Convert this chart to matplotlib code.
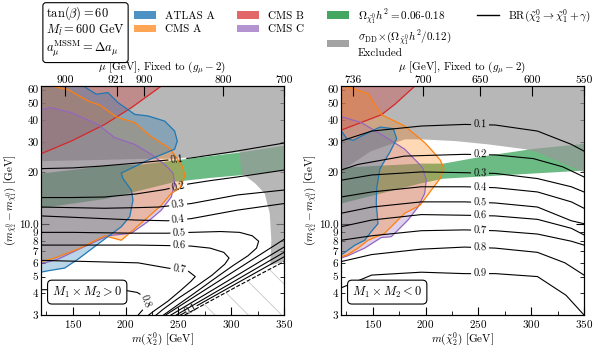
import numpy as np
import matplotlib.pyplot as plt
from matplotlib.patches import Patch
from matplotlib.lines import Line2D

plt.rcParams['font.family'] = 'serif'
plt.rcParams['font.serif'] = ['cmr10']
plt.rcParams['mathtext.fontset'] = 'cm'
plt.rcParams['axes.formatter.use_mathtext'] = True
plt.rcParams['axes.unicode_minus'] = False
plt.rcParams['hatch.linewidth'] = 0.6

# ---------------- data (m_chi2 [GeV], delta m [GeV]) ----------------
XLIM = (120, 350)
YLIM = (3, 63)

# left panel: M1*M2 > 0
L_green_top = ([120, 150, 181, 214, 247, 280, 308, 350], [19.8, 20.8, 22.0, 22.3, 23.6, 25.0, 26.2, 28.7])
L_green_bot = ([120, 180, 237, 250, 306, 350], [12.5, 14.1, 17.0, 18.0, 19.3, 20.6])
L_gray = ([120, 350, 350, 337, 338, 336.5, 331.7, 322.5, 309.6, 308, 280, 247, 214, 180, 150, 120],
          [63, 63, 6.1, 5.8, 8.1, 11.6, 15.1, 17.3, 19.8, 26.2, 25.0, 24.0, 23.9, 23.6, 23.4, 23.2])
L_dashed = ([256, 306, 350], [3.0, 4.4, 6.1])

L_cms_b = ([120, 148.7, 180.3, 205.5, 234], [25.6, 30.3, 37.8, 47.2, 63])
L_atlas = ([160, 172.3, 183.4, 192.9, 208.7, 221.3, 237.1, 246.5, 249, 246.5, 221.3, 196, 197.6, 205.5,
            207.1, 204, 196, 178.7, 155, 142.4, 126.6, 120],
           [63, 56.5, 57.7, 50.5, 43.2, 42.3, 39.5, 34.6, 30.3, 27.2, 23.5, 19.8, 18.4, 15.8,
            13.8, 11.1, 9.7, 8.1, 6.3, 5.6, 5.4, 5.3])
L_cms_a = ([129.7, 145.6, 164.5, 175.8, 191.6, 208.7, 223.2, 242.1, 253.2, 256.3, 251.6, 243.3, 233.9,
            218.2, 196, 180.3, 155, 133, 120],
           [63, 60.1, 51.6, 48.9, 41.7, 38.7, 32.5, 27.4, 22.0, 19.2, 16.2, 15.1, 12.9,
            10.6, 8.1, 8.6, 7.2, 6.4, 6.1])
L_cms_c = ([120, 129.7, 148.7, 174, 189.8, 208.7, 224.4, 237.1, 245, 246.5, 243.3, 233.9, 221.3, 205.5,
            183.4, 158.1, 136.1, 123.5, 120],
           [46.1, 47.2, 44.2, 37.8, 31.7, 29.0, 25.4, 22.2, 19.8, 17.2, 14.4, 12.1, 10.4, 8.9,
            8.6, 7.3, 6.3, 6.0, 6.0])

L_br = {
    '0.1': ([120, 150, 176, 210, 232, 262, 300, 350], [21.0, 21.2, 21.7, 22.6, 23.3, 24.2, 26.2, 29.5]),
    '0.2': ([120, 150, 180, 210, 237, 259, 280, 306, 350], [14.3, 14.3, 14.4, 15.0, 15.9, 17.1, 17.9, 18.8, 20.6]),
    '0.3': ([120, 150, 180, 210, 231, 262, 306, 350], [12.6, 12.5, 12.4, 12.5, 12.6, 13.2, 14.8, 15.8]),
    '0.4': ([120, 150, 180, 210, 240, 262, 306, 350], [11.2, 11.0, 10.8, 10.6, 10.5, 10.8, 12.1, 13.2]),
    '0.5': ([120, 150, 180, 210, 240, 262, 290, 308, 320, 326, 324, 316, 302, 285, 265, 250, 236],
            [9.0, 9.0, 8.95, 8.9, 8.9, 9.0, 9.1, 9.0, 8.6, 8.0, 7.3, 6.6, 5.8, 4.9, 4.0, 3.45, 3.0]),
    '0.6': ([120, 150, 180, 211, 240, 262, 280, 293, 298, 294, 282, 266, 250, 236, 229],
            [7.6, 7.6, 7.6, 7.6, 7.55, 7.5, 7.3, 6.9, 6.4, 5.9, 5.1, 4.35, 3.75, 3.25, 3.0]),
    '0.7': ([120, 168, 212, 240, 259, 266, 262, 252, 240, 228, 222],
            [6.2, 6.1, 6.0, 5.6, 5.4, 5.0, 4.7, 4.15, 3.6, 3.2, 3.0]),
    '0.8': ([120, 160, 201, 211, 217, 219, 217, 212], [4.2, 4.2, 4.15, 4.05, 3.85, 3.55, 3.25, 3.0]),
}
L_br_at = {'0.1': (249, 24.0), '0.2': (250, 16.6), '0.3': (250, 12.6), '0.4': (250, 10.6),
           '0.5': (251, 8.9), '0.6': (251, 7.5), '0.7': (251, 5.5), '0.8': (219, 3.6)}
# lower branches of 0.4 ... 0.1, squeezed against the dashed boundary
L_br_low = [([238, 294, 350], [3.0, 4.96, 8.2]),
            ([243, 296.5, 350], [3.0, 4.71, 7.4]),
            ([248, 299, 350], [3.0, 4.55, 6.9]),
            ([252, 301, 350], [3.0, 4.42, 6.5])]

# right panel: M1*M2 < 0
R_green_top = ([120, 195, 216.5, 258, 302, 350], [21.4, 22.6, 22.6, 25.1, 27.5, 29.4])
R_green_bot = ([120, 152, 216.5, 270.5, 350], [13.3, 15.1, 18.5, 19.3, 20.6])
R_gray = ([120, 350, 350, 322.5, 306.5, 294.2, 259.1, 227.9, 195.7, 180.6, 148.4, 129.5, 120],
          [63, 63, 20.0, 23.5, 26.0, 27.2, 29.0, 30.3, 31.0, 31.0, 26.5, 22.2, 20.6])

R_cms_b = ([120, 158.3, 171, 190], [35.0, 43.0, 49.4, 63])
R_atlas = ([120, 125.4, 131.6, 141.1, 156.9, 169.5, 172.7, 166.4, 156.9, 153.8, 153.4, 155, 148.7, 142.4,
            133.3, 122.2, 120],
           [35.0, 31.3, 30.6, 32.8, 36.5, 35.7, 31.3, 26.2, 21.0, 16.2, 13.2, 10.1, 9.1, 8.1,
            7.6, 6.8, 6.7])
R_cms_a = ([123.8, 145.7, 158.3, 180.3, 199.2, 207.4, 214, 217.5, 213.7, 204.2, 194.8, 180.3, 161.4, 145.6,
            136.1, 126.6, 120],
           [63, 56.8, 43.0, 37.0, 29.7, 26.2, 23.5, 21.0, 18.4, 15.4, 12.9, 11.6, 8.9, 8.1,
            7.3, 6.7, 6.5])
R_cms_c = ([120, 123.5, 139.2, 158.1, 180.3, 194.5, 197.6, 200.7, 199.2, 192.9, 183.4, 167.6, 158.1, 142.4,
            126.6, 120],
           [41.7, 41.4, 38.7, 33.1, 27.2, 22.2, 21.0, 18.0, 15.1, 12.6, 10.6, 8.5, 8.4, 7.3,
            6.6, 6.4])

R_x = [120, 149, 196, 237, 266, 306, 338, 350]
R_br = {
    '0.1': (R_x, [30.3, 34.6, 37.0, 37.8, 37.5, 34.6, 29.0, 26.5]),
    '0.2': ([120, 136, 180, 237, 266, 302, 330, 350], [20.6, 22.2, 24.8, 25.4, 25.2, 24.0, 21.5, 18.8]),
    '0.3': (R_x, [18.0, 19.3, 20.1, 19.9, 19.7, 18.4, 16.5, 15.4]),
    '0.4': (R_x, [14.4, 15.4, 16.5, 16.5, 16.3, 15.4, 13.5, 12.4]),
    '0.5': (R_x, [11.6, 12.6, 13.5, 13.5, 13.3, 12.6, 10.5, 10.1]),
    '0.6': (R_x, [9.7, 10.6, 11.4, 11.3, 11.2, 10.7, 9.5, 8.7]),
    '0.7': (R_x, [8.1, 8.6, 9.2, 9.3, 9.2, 8.8, 8.0, 7.6]),
    '0.8': ([120, 149, 196, 237, 266, 306, 332, 350], [6.1, 6.7, 7.2, 7.4, 7.3, 6.9, 6.0, 5.1]),
    '0.9': ([120, 149, 196, 237, 266, 306, 333, 350], [4.3, 5.1, 5.3, 5.2, 5.2, 5.0, 3.9, 3.0]),
}
R_br_at = {k: (251.6, v) for k, v in zip(R_br, [37.6, 25.3, 19.9, 16.5, 13.5, 11.3, 9.3, 7.4, 5.2])}

# top axis: mu values fixed by (g-2)
L_mu_pos = [142.7, 191.6, 217.5, 292.6, 350]
L_mu_lab = ['900', '921', '900', '800', '700']
R_mu_pos = [131.7, 197.3, 251.6, 301, 350]
R_mu_lab = ['736', '700', '650', '600', '550']

y_major = [10]
y_minor = [3, 4, 5, 6, 7, 8, 9, 20, 30, 40, 50, 60]

C_BLUE, C_ORANGE, C_RED, C_PURPLE = '#1f77b4', '#ff7f0e', '#d62728', '#9467bd'
C_GREEN, C_GRAY = '#2e9e50', '#999999'


def contour_line(ax, xs, ys, text, at, gap=19):
    # cut a gap in the line (in screen space) and write the level there
    pts = ax.transData.transform(np.column_stack([xs, ys]))
    seg = np.diff(pts, axis=0)
    seglen = np.hypot(seg[:, 0], seg[:, 1])
    cum = np.concatenate([[0], np.cumsum(seglen)])
    p = ax.transData.transform([at])[0]
    best = None
    for i in range(len(seg)):
        t = np.clip(np.dot(p - pts[i], seg[i]) / seglen[i] ** 2, 0, 1)
        d = np.hypot(*(pts[i] + t * seg[i] - p))
        if best is None or d < best[0]:
            best = (d, cum[i] + t * seglen[i], i)
    s0, i0 = best[1], best[2]
    ang = np.degrees(np.arctan2(seg[i0, 1], seg[i0, 0]))
    if ang > 90:
        ang -= 180
    if ang < -90:
        ang += 180
    inv = ax.transData.inverted()
    for a, b in [(0, s0 - gap / 2), (s0 + gap / 2, cum[-1])]:
        if b <= a:
            continue
        keep = (cum > a) & (cum < b)
        ss = np.concatenate([[a], cum[keep], [b]])
        d = inv.transform(np.column_stack([np.interp(ss, cum, pts[:, 0]), np.interp(ss, cum, pts[:, 1])]))
        ax.plot(d[:, 0], d[:, 1], color='k', lw=0.8, zorder=4)
    c = inv.transform([[np.interp(s0, cum, pts[:, 0]), np.interp(s0, cum, pts[:, 1])]])[0]
    ax.text(c[0], c[1], text, rotation=ang, rotation_mode='anchor', ha='center', va='center',
            fontsize=7.5, zorder=5)


def region(ax, curve, color, corner=None):
    xs, ys = list(curve[0]), list(curve[1])
    fx, fy = xs[:], ys[:]
    if corner is not None:
        fx.append(corner[0])
        fy.append(corner[1])
    ax.fill(fx, fy, color=color, alpha=0.3, lw=0, zorder=3)
    ax.plot(xs, ys, color=color, lw=0.9, zorder=3.5)


fig = plt.figure(figsize=(5.98, 3.46), dpi=100)
axL = fig.add_axes([41 / 598, 31 / 346, 243 / 598, 229 / 346])
axR = fig.add_axes([341 / 598, 31 / 346, 243 / 598, 229 / 346])

for ax, mu_pos, mu_lab in [(axL, L_mu_pos, L_mu_lab), (axR, R_mu_pos, R_mu_lab)]:
    ax.set_yscale('log')
    ax.set_xlim(*XLIM)
    ax.set_ylim(*YLIM)
    ax.set_xticks([150, 200, 250, 300, 350])
    ax.set_xticks(np.arange(125, 350, 25), minor=True)
    ax.yaxis.set_major_locator(plt.FixedLocator(y_major))
    ax.yaxis.set_major_formatter(plt.FixedFormatter(['10.0']))
    ax.yaxis.set_minor_locator(plt.FixedLocator(y_minor))
    ax.yaxis.set_minor_formatter(plt.FixedFormatter([str(v) for v in y_minor]))
    ax.tick_params(which='both', direction='in', labelsize=8, right=True, top=False, pad=2)
    ax.tick_params(which='major', length=6)
    ax.tick_params(which='minor', length=3)
    ax.set_xlabel(r'$m(\tilde{\chi}_2^0)$ [GeV]', fontsize=8, labelpad=0)
    ax.set_ylabel(r'$(m_{\tilde{\chi}_2^0}-m_{\tilde{\chi}_1^0})$ [GeV]', fontsize=8, labelpad=0)
    top = ax.twiny()
    top.set_xlim(*XLIM)
    top.set_xticks(mu_pos)
    top.set_xticklabels(mu_lab)
    top.tick_params(direction='in', length=7, labelsize=8.3, pad=1)
    top.set_xlabel(r'$\mu$ [GeV], Fixed to $(g_\mu-2)$', fontsize=8, labelpad=3.5)

# left panel
axL.fill_between(L_green_top[0], L_green_top[1], np.interp(L_green_top[0], *L_green_bot),
                 color=C_GREEN, alpha=0.7, lw=0, zorder=1)
axL.fill(*L_gray, color=C_GRAY, alpha=0.7, lw=0, zorder=2)
axL.fill(L_dashed[0] + [350], L_dashed[1] + [3], fill=False, hatch='\\', ec='#c8c8c8', lw=0, zorder=1)
axL.plot(*L_dashed, color='k', ls='--', lw=0.8, zorder=4)
region(axL, L_cms_b, C_RED, corner=(120, 63))
region(axL, L_cms_c, C_PURPLE)
region(axL, L_cms_a, C_ORANGE, corner=(120, 63))
region(axL, L_atlas, C_BLUE, corner=(120, 63))
for k, (xs, ys) in L_br.items():
    contour_line(axL, xs, ys, k, L_br_at[k])
for xs, ys in L_br_low[:-1]:
    axL.plot(xs, ys, color='k', lw=0.8, zorder=4)
contour_line(axL, *L_br_low[-1], '0.1', (262, 3.25), gap=14)

# right panel
axR.fill_between(R_green_top[0], R_green_top[1], np.interp(R_green_top[0], *R_green_bot),
                 color=C_GREEN, alpha=0.7, lw=0, zorder=1)
axR.fill(*R_gray, color=C_GRAY, alpha=0.7, lw=0, zorder=2)
region(axR, R_cms_b, C_RED, corner=(120, 63))
region(axR, R_cms_c, C_PURPLE)
region(axR, R_cms_a, C_ORANGE, corner=(120, 63))
region(axR, R_atlas, C_BLUE)
for k, (xs, ys) in R_br.items():
    contour_line(axR, xs, ys, k, R_br_at[k])

box = dict(boxstyle='round,pad=0.35', fc='white', ec='k', lw=0.8)
axL.text(0.045, 0.085, r'$M_1\times M_2>0$', transform=axL.transAxes, fontsize=9, bbox=box, zorder=6)
axR.text(0.045, 0.085, r'$M_1\times M_2<0$', transform=axR.transAxes, fontsize=9, bbox=box, zorder=6)

fig.text(46 / 598, 1 - 4 / 346,
         '$\\tan(\\beta)=60$\n$M_{\\tilde{l}}=600$ GeV\n$a_\\mu^{\\rm MSSM}=\\Delta a_\\mu$',
         fontsize=9, va='top', ha='left', linespacing=1.1,
         bbox=dict(boxstyle='round,pad=0.25', fc='white', ec='k', lw=0.8))

handles = [Patch(fc=C_BLUE, alpha=0.8), Patch(fc=C_ORANGE, alpha=0.7),
           Patch(fc=C_RED, alpha=0.7), Patch(fc=C_PURPLE, alpha=0.7),
           Patch(fc=C_GREEN, alpha=0.9), Patch(fc=C_GRAY, alpha=0.9)]
labels = ['ATLAS A', 'CMS A', 'CMS B', 'CMS C',
          r'$\Omega_{\tilde{\chi}_1^0}h^2=0.06$-$0.18$',
          '$\\sigma_{\\rm DD}\\!\\times\\!(\\Omega_{\\tilde{\\chi}_1^0}h^2/0.12)$\nExcluded']
leg_kw = dict(loc='upper left', frameon=False, fontsize=8, handlelength=2.0, handletextpad=0.8,
              columnspacing=2.0, labelspacing=0.3)
fig.legend(handles, labels, ncol=3, bbox_to_anchor=(124 / 598, 1 + 3 / 346), **leg_kw)
fig.legend([Line2D([], [], color='k', lw=1)], [r'BR$(\tilde{\chi}_2^0\rightarrow\tilde{\chi}_1^0+\gamma)$'],
           bbox_to_anchor=(467 / 598, 1 + 3 / 346), **leg_kw)

fig.savefig('out.png', dpi=100)
